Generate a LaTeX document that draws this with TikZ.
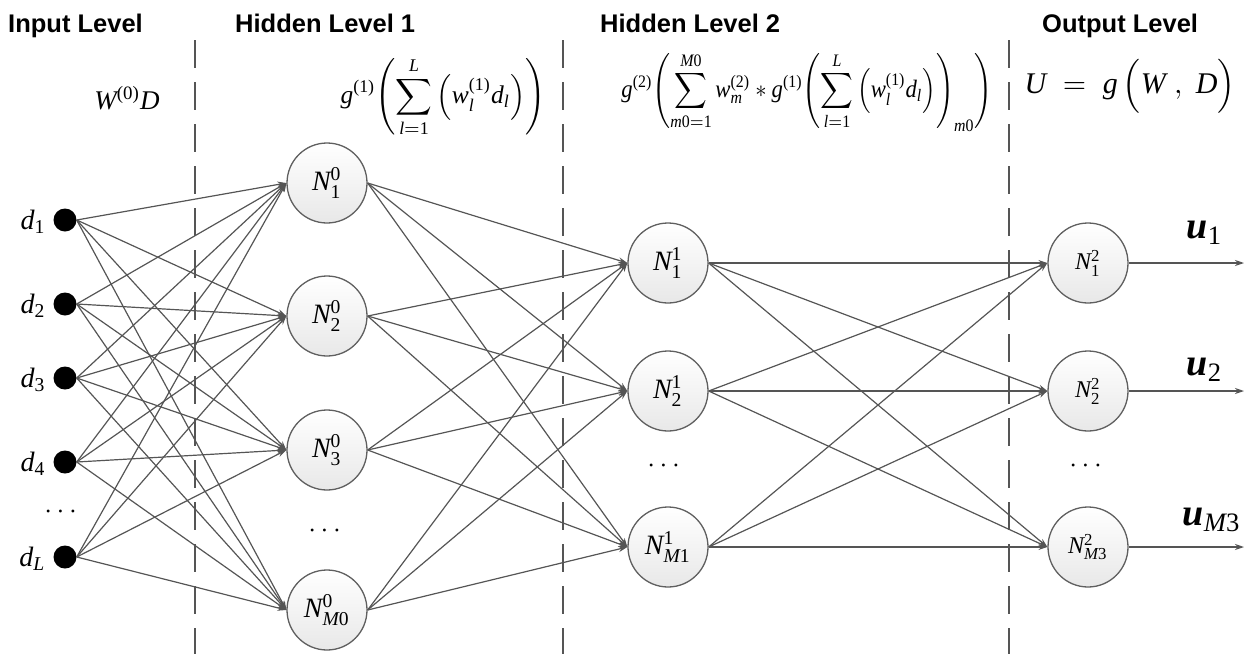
\documentclass[tikz,border=0pt]{standalone}
\usepackage{amsmath}
\usepackage{graphicx}
\usepackage{fontspec}
\setmainfont{Liberation Serif}
\newfontfamily\hdrfont{Liberation Sans}
\newfontfamily\tnrfam{Liberation Serif}[NFSSFamily=tnr]
\DeclareSymbolFont{tnrit}{TU}{tnr}{m}{it}
\DeclareSymbolFont{tnrup}{TU}{tnr}{m}{n}
\AtBeginDocument{%
  \Umathcode`D=7 \symtnrit `D \Umathcode`L=7 \symtnrit `L
  \Umathcode`M=7 \symtnrit `M \Umathcode`N=7 \symtnrit `N
  \Umathcode`U=7 \symtnrit `U \Umathcode`W=7 \symtnrit `W
  \Umathcode`d=7 \symtnrit `d \Umathcode`g=7 \symtnrit `g
  \Umathcode`l=7 \symtnrit `l \Umathcode`m=7 \symtnrit `m
  \Umathcode`u=7 \symtnrit `u \Umathcode`w=7 \symtnrit `w
  \Umathcode`0=7 \symtnrup `0 \Umathcode`1=7 \symtnrup `1
  \Umathcode`2=7 \symtnrup `2 \Umathcode`3=7 \symtnrup `3
  \Umathcode`4=7 \symtnrup `4
  \Umathcode`(=4 \symtnrup `( \Umathcode`)=5 \symtnrup `)
}
\usetikzlibrary{arrows.meta}
\definecolor{edgegray}{RGB}{85,85,85}
\definecolor{rimgray}{RGB}{95,95,95}
\definecolor{nodegray}{RGB}{232,232,232}
\newcommand\sbx[2]{\scalebox{#1}{#2}}
\tikzset{
  neuron/.style={circle, draw=rimgray, line width=1.3pt, top color=white, bottom color=nodegray,
    minimum size=80pt, inner sep=0pt},
  outneuron/.style={neuron},
  inputdot/.style={circle, fill=black, minimum size=23pt, inner sep=0pt},
  conn/.style={draw=edgegray, line width=1.2pt, -{Stealth[length=9pt,width=6pt]}},
  divider/.style={draw=edgegray, line width=2.4pt, dash pattern=on 28pt off 14pt},
  header/.style={font=\hdrfont\bfseries\fontsize{25.5}{29}\selectfont, anchor=base west, inner sep=0pt},
  dlabel/.style={anchor=east, inner sep=0pt},
  plain/.style={inner sep=0pt},
}
\begin{document}
\begin{tikzpicture}[x=1pt,y=-1pt]
\useasboundingbox (0,0) rectangle (1245,654);
% dividers
\draw[divider] (195,40) -- (195,654);
\draw[divider] (563,40) -- (563,654);
\draw[divider] (1009,40) -- (1009,654);
% headers
\node[header] (hA) at (8,32) {Input Level};
\node[header] (hB) at (235,32) {Hidden Level 1};
\node[header] (hC) at (600,32) {Hidden Level 2};
\node[header] (hD) at (1042,32) {Output Level};
% formulas
\node[plain] (fA) at (127,98) {\sbx{2.7}{$W^{(0)}D$}};
\node[plain] (fB) at (443,97) {\sbx{2.55}{$\displaystyle g^{(1)}\!\left(\sum_{l=1}^{L}\left(w_{l}^{(1)}d_{l}\right)\right)$}};
\node[plain] (fC) at (807,92) {\scalebox{2.27}[2.5]{$\displaystyle g^{(2)}\!\left(\sum_{m0=1}^{M0} w_{m}^{(2)} * g^{(1)}\!\left(\sum_{l=1}^{L}\left(w_{l}^{(1)}d_{l}\right)\right)_{m0}\right)$}};
\node[plain] (fD) at (1130,86) {\sbx{3.0}{$U \;=\; g\,\Bigl(W\;,\;D\Bigr)$}};
% input layer
\node[inputdot] (d1) at (65,220) {};
\node[inputdot] (d2) at (65,304) {};
\node[inputdot] (d3) at (65,378) {};
\node[inputdot] (d4) at (65,462) {};
\node[inputdot] (d5) at (65,557) {};
\node[dlabel] (ld1) at (46,222) {\sbx{2.8}{$d_1$}};
\node[dlabel] (ld2) at (46,306) {\sbx{2.8}{$d_2$}};
\node[dlabel] (ld3) at (46,380) {\sbx{2.8}{$d_3$}};
\node[dlabel] (ld4) at (46,464) {\sbx{2.8}{$d_4$}};
\node[dlabel] (ld5) at (46,559) {\sbx{2.8}{$d_L$}};
\node[plain] (dotsA) at (63,512) {\sbx{2.8}{$\cdots$}};
% hidden 1
\node[neuron] (h1) at (327,183) {\sbx{2.8}{$N_1^0$}};
\node[neuron] (h2) at (327,316) {\sbx{2.8}{$N_2^0$}};
\node[neuron] (h3) at (327,450) {\sbx{2.8}{$N_3^0$}};
\node[neuron] (h4) at (327,610) {\sbx{2.8}{$N_{M0}^0$}};
\node[plain] (dotsB) at (327,531) {\sbx{2.8}{$\cdots$}};
% hidden 2
\node[neuron] (k1) at (668,263) {\sbx{2.8}{$N_1^1$}};
\node[neuron] (k2) at (668,391) {\sbx{2.8}{$N_2^1$}};
\node[neuron] (k3) at (668,547) {\sbx{2.8}{$N_{M1}^1$}};
\node[plain] (dotsC) at (666,466) {\sbx{2.8}{$\cdots$}};
% output
\node[outneuron] (o1) at (1088,263) {\sbx{2.4}{$N_1^2$}};
\node[outneuron] (o2) at (1088,391) {\sbx{2.4}{$N_2^2$}};
\node[outneuron] (o3) at (1088,547) {\sbx{2.4}{$N_{M3}^2$}};
\node[plain] (dotsD) at (1088,466) {\sbx{2.8}{$\cdots$}};
\coordinate (e1) at (1244,263);
\coordinate (e2) at (1244,391);
\coordinate (e3) at (1244,547);
\node[plain] (u1) at (1205,233) {\sbx{3.8}{$\mbox{\bfseries\itshape u}_1$}};
\node[plain] (u2) at (1205,370) {\sbx{3.8}{$\mbox{\bfseries\itshape u}_2$}};
\node[plain] (u3) at (1212,520) {\sbx{3.8}{$\mbox{\bfseries\itshape u}_{M3}$}};
% connections
\foreach \a in {d1,d2,d3,d4,d5}
  \foreach \b in {h1,h2,h3,h4}
    \draw[conn] (\a.east) -- (\b.west);
\foreach \a in {h1,h2,h3,h4}
  \foreach \b in {k1,k2,k3}
    \draw[conn] (\a.east) -- (\b.west);
\foreach \a in {k1,k2,k3}
  \foreach \b in {o1,o2,o3}
    \draw[conn] (\a.east) -- (\b.west);
\draw[conn] (o1.east) -- (e1);
\draw[conn] (o2.east) -- (e2);
\draw[conn] (o3.east) -- (e3);
\end{tikzpicture}
\end{document}
